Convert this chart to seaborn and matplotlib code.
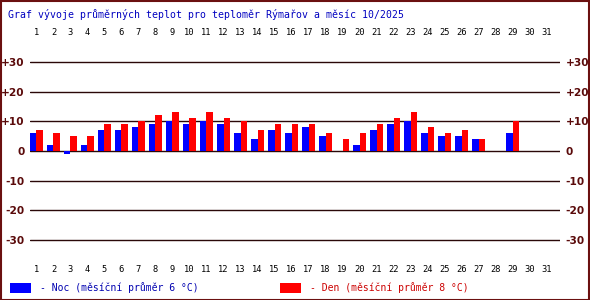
import numpy as np
import pandas as pd
import matplotlib
matplotlib.use("Agg")
import matplotlib.pyplot as plt
import seaborn as sns
from matplotlib.patches import Rectangle

days = list(range(1, 32))
noc = [6, 2, -1, 2, 7, 7, 8, 9, 10, 9, 10, 9, 6, 4, 7, 6, 8, 5, np.nan, 2, 7, 9, 10, 6, 5, 5, 4, np.nan, 6, np.nan, np.nan]
den = [7, 6, 5, 5, 9, 9, 10, 12, 13, 11, 13, 11, 10, 7, 9, 9, 9, 6, 4, 6, 9, 11, 13, 8, 6, 7, 4, np.nan, 10, np.nan, np.nan]
y_ticks = [30, 20, 10, 0, -10, -20, -30]
y_labels = ["+30", "+20", "+10", "0", "-10", "-20", "-30"]
title = "Graf vývoje průměrných teplot pro teploměr Rýmařov a měsíc 10/2025"
legend_noc = "- Noc (měsíční průměr 6 °C)"
legend_den = "- Den (měsíční průměr 8 °C)"

df = pd.DataFrame({
    "day": days * 2,
    "value": noc + den,
    "series": ["Noc"] * len(days) + ["Den"] * len(days),
})

sns.set_theme(style="white")
plt.rcParams["font.family"] = ["DejaVu Sans"]

W, H = 590, 300
fig = plt.figure(figsize=(W / 100, H / 100), dpi=100)
fig.patch.set_facecolor("white")

# axes: x from 30 to 560 px, y: +30 at 62 px, -30 at 240 px (padded by 0.5 deg)
ax = fig.add_axes([30 / W, 1 - 241.5 / H, 530 / W, 181 / H])
ax.set_facecolor("white")

for t in y_ticks:
    ax.axhline(t, color="#2a0808", lw=1.0, zorder=0)

sns.barplot(data=df, x="day", y="value", hue="series", hue_order=["Noc", "Den"],
            palette={"Noc": "#0000ff", "Den": "#ff0000"}, dodge=True, width=0.77,
            errorbar=None, legend=False, saturation=1, linewidth=0, ax=ax, zorder=2)

ax.set_xlim(-0.38, 30.79)
ax.set_ylim(-30.5, 30.5)
for s in ax.spines.values():
    s.set_visible(False)
ax.set_xlabel("")
ax.set_ylabel("")
ax.set_xticks(range(len(days)))
ax.set_xticklabels([str(d) for d in days], fontsize=6.3, family="DejaVu Sans Mono",
                   color="black")
ax.tick_params(axis="x", length=0, pad=17, labeltop=True, labelbottom=True)
ax.set_yticks(y_ticks)
ax.set_yticklabels(y_labels, fontsize=7.6, fontweight="bold", color="#5a0a0a")
ax.tick_params(axis="y", length=0, pad=4, labelleft=True, labelright=True)

# title
fig.text(8 / W, 1 - 14 / H, title, family="DejaVu Sans Mono", fontsize=7.1,
         color="#0000c0", ha="left", va="center")

# legend
fig.add_artist(Rectangle((10 / W, 1 - 292.5 / H), 21 / W, 10 / H, transform=fig.transFigure,
                         facecolor="#0000ff", edgecolor="none"))
fig.text(40 / W, 1 - 288 / H, legend_noc, family="DejaVu Sans Mono", fontsize=7.0,
         color="#0000b0", ha="left", va="center")
fig.add_artist(Rectangle((280 / W, 1 - 292.5 / H), 21 / W, 10 / H, transform=fig.transFigure,
                         facecolor="#ff0000", edgecolor="none"))
fig.text(310 / W, 1 - 288 / H, legend_den, family="DejaVu Sans Mono", fontsize=7.0,
         color="#cc0000", ha="left", va="center")

# border
fig.add_artist(Rectangle((0.5 / W, 0.5 / H), 1 - 1.5 / W, 1 - 1.5 / H, transform=fig.transFigure,
                         facecolor="none", edgecolor="#6b1010", lw=1.5))

fig.savefig("out.png", dpi=100, facecolor="white")
